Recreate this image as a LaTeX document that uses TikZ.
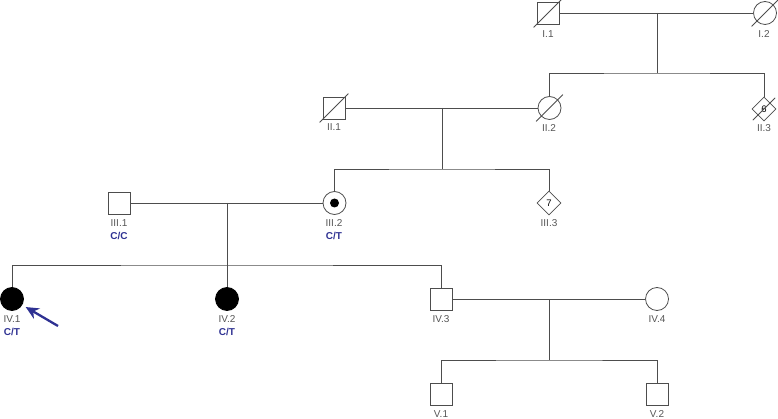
\documentclass[tikz,border=0pt]{standalone}
\usepackage{fontspec}
\setmainfont{Liberation Sans}
\usetikzlibrary{shapes.geometric,arrows.meta}
\definecolor{lin}{HTML}{4D4D4D}
\definecolor{lab}{HTML}{555555}
\definecolor{geno}{HTML}{2E3192}
\begin{document}
\begin{tikzpicture}[x=1pt,y=-1pt,
  conn/.style={line width=0.8pt,draw=lin},
  male/.style={rectangle,draw=lin,line width=0.8pt,minimum size=22pt,inner sep=0pt},
  female/.style={circle,draw=lin,line width=0.8pt,minimum size=23pt,inner sep=0pt},
  unk/.style={diamond,draw=lin,line width=0.8pt,minimum size=24pt,inner sep=0pt,font=\fontsize{9.5}{9.5}\selectfont,text=black},
  aff/.style={fill=black,draw=black},
  idlab/.style={text=lab,font=\fontsize{10}{10}\selectfont,inner sep=0pt},
  gtlab/.style={text=geno,font=\bfseries\fontsize{10}{10}\selectfont,inner sep=0pt},
  pointer/.style={-{Stealth[length=13pt,width=12pt]},line width=2.3pt,draw=geno,color=geno}]
\useasboundingbox (0,0) rectangle (778,419);
% Generation I
\node[male] (I1) at (548,13) {};
\node[female] (I2) at (765,13) {};
\node[idlab] (lI1) at (548,34) {I.1};
\node[idlab] (lI2) at (764,34) {I.2};
% Generation II
\node[male] (II1) at (334,108) {};
\node[female] (II2) at (549.5,108) {};
\node[unk] (II3) at (764,109) {6};
\node[idlab] (lII1) at (334,127) {II.1};
\node[idlab] (lII2) at (549,128) {II.2};
\node[idlab] (lII3) at (764,128) {II.3};
% Generation III
\node[male] (III1) at (119,203) {};
\node[female] (III2) at (334.5,203) {};
\node[circle,fill=black,minimum size=9pt,inner sep=0pt] (III2dot) at (III2.center) {};
\node[unk] (III3) at (549,203) {7};
\node[idlab] (lIII1) at (119,223) {III.1};
\node[gtlab] (gIII1) at (119,236) {C/C};
\node[idlab] (lIII2) at (334,223) {III.2};
\node[gtlab] (gIII2) at (334,236) {C/T};
\node[idlab] (lIII3) at (549,223) {III.3};
% Generation IV
\node[female,aff] (IV1) at (12,299) {};
\node[female,aff] (IV2) at (227,299) {};
\node[male] (IV3) at (441,299) {};
\node[female] (IV4) at (657,299) {};
\node[idlab] (lIV1) at (12,319) {IV.1};
\node[gtlab] (gIV1) at (12,332) {C/T};
\node[idlab] (lIV2) at (227,319) {IV.2};
\node[gtlab] (gIV2) at (227,332) {C/T};
\node[idlab] (lIV3) at (441,319) {IV.3};
\node[idlab] (lIV4) at (657,319) {IV.4};
% Generation V
\node[male] (V1) at (441,394.5) {};
\node[male] (V2) at (657,394.5) {};
\node[idlab] (lV1) at (441,414) {V.1};
\node[idlab] (lV2) at (657,414) {V.2};
% junction coordinates
\coordinate (m1) at (657,13);
\coordinate (s1) at (657,73);
\coordinate (m2) at (442,108);
\coordinate (s2) at (442,169);
\coordinate (m3) at (227,203);
\coordinate (s3) at (227,265);
\coordinate (m4) at (549,299);
\coordinate (s4) at (549,360);
% lines
\begin{scope}[conn]
\draw (I1.east) -- (I2.west);
\draw (m1) -- (s1);
\draw (II2.north) |- (s1) -| (II3.north);
\draw (II1.east) -- (II2.west);
\draw (m2) -- (s2);
\draw (III2.north) |- (s2) -| (III3.north);
\draw (III1.east) -- (III2.west);
\draw (m3) -- (IV2.north);
\draw (IV1.north) |- (s3) -| (IV3.north);
\draw (IV3.east) -- (IV4.west);
\draw (m4) -- (s4);
\draw (V1.north) |- (s4) -| (V2.north);
% deceased strokes
\draw ([shift={(-3,3)}]I1.south west) -- ([shift={(3,-3)}]I1.north east);
\draw ([shift={(-3,3)}]II1.south west) -- ([shift={(3,-3)}]II1.north east);
\draw ([shift={(-5,5)}]I2.south west) -- ([shift={(5,-5)}]I2.north east);
\draw ([shift={(-5,5)}]II2.south west) -- ([shift={(5,-5)}]II2.north east);
\draw ([shift={(-5,5)}]II3.south west) -- ([shift={(5,-5)}]II3.north east);
\end{scope}
% proband arrow
\coordinate (ptail) at (58,326);
\draw[pointer,shorten >=4pt] (ptail) -- (IV1);
\end{tikzpicture}
\end{document}
